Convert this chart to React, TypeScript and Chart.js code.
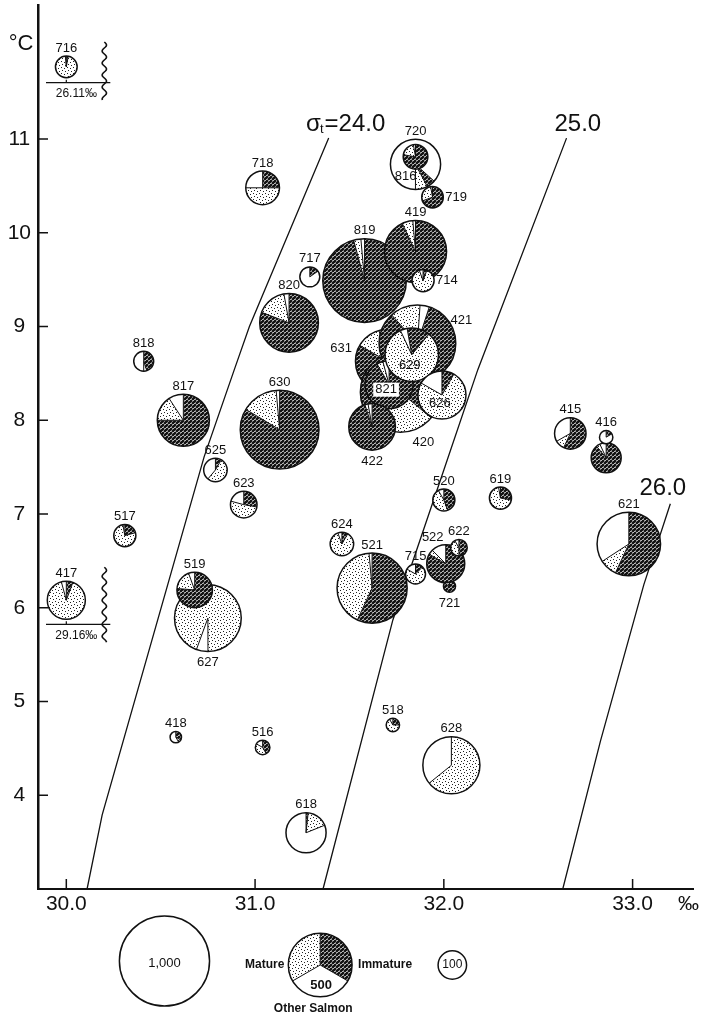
import React, { useEffect, useRef } from 'react';
import { Chart, registerables } from 'chart.js';

Chart.register(...registerables);

// ---------- DATA ----------
// Stations, drawn back-to-front (overlaps follow the original figure)
const stations = ['716','718','720','816','719','819','419','714','717','820','818','631','421','420','821','629','626','422','630','817','625','623','517','417','627','519','418','516','618','624','521','715','721','522','622','520','619','518','628','415','','416','621'];
// Salinity (‰) as plotted; 716 and 417 are off-scale insets plotted at the 30.0 mark
const salinity = [30.00,31.04,31.85,31.85,31.94,31.58,31.85,31.89,31.29,31.18,30.41,31.70,31.86,31.77,31.71,31.83,31.99,31.62,31.13,30.62,30.79,30.94,30.31,30.00,30.75,30.68,30.58,31.04,31.27,31.46,31.62,31.85,32.03,32.01,32.08,32.00,32.30,31.73,32.04,32.67,32.86,32.86,32.98];
const temperature = [11.77,10.48,10.73,10.81,10.38,9.49,9.80,9.49,9.53,9.04,8.63,8.63,8.82,8.30,8.38,8.70,8.27,7.93,7.90,8.00,7.47,7.10,6.77,6.08,5.89,6.19,4.62,4.51,3.60,6.68,6.21,6.36,6.23,6.47,6.64,7.15,7.17,4.75,4.32,7.86,7.60,7.82,6.68];
const totalCatch = [58,140,310,75,57,860,475,60,49,424,49,496,724,790,284,352,284,268,763,334,68,87,60,178,548,155,16,26,198,68,605,49,18,178,34,60,60,22,401,122,111,22,496];
// Share of catch (%)
const immaturePct = [2.8,25,5.6,77.8,69.4,95.8,93.1,5.6,15.3,80.8,45,86.1,83.3,69.4,91.7,13.9,8.3,95,83.6,75,8.3,27.8,20.8,5.6,0,76.4,33.3,41.7,1.7,8.3,56.9,12.5,83.3,83.3,50,44.4,27.8,25,0,56.9,88.9,16.7,56.9];
const maturePct = [95.8,50,7.8,19.4,27.8,2.8,5.6,88.9,0,16.4,5,12.5,12.8,27.8,4.2,81.9,75,2.2,15,15.8,52.8,51.4,76.4,90.3,94.4,18.1,8.3,41.7,17.2,86.1,41.7,70.8,16.7,4.2,41.7,47.2,69.4,66.7,64.2,9.7,4.2,0,8.9];
const otherPct = [1.4,25,86.7,2.8,2.8,1.4,1.4,5.6,84.7,2.8,50,1.4,3.9,2.8,4.2,4.2,16.7,2.8,1.4,9.2,38.9,20.8,2.8,4.2,5.6,5.6,58.3,16.7,81.1,5.6,1.4,16.7,0,12.5,8.3,8.3,2.8,8.3,35.8,33.3,6.9,83.3,34.2];
// Angle (deg, clockwise from 12 o'clock) where the first sector begins
const startAngle = [0,0,132,0,0,0,0,0,0,0,0,-10,18,240,0,-10,0,0,0,0,0,0,0,0,200,0,0,0,0,0,0,0,0,0,0,0,0,0,0,0,0,0,0];
// Off-scale salinities of the inset stations
const offScaleStations = ['716','417'];
const offScaleSalinity = [26.11, 29.16];

// Isopycnals (sigma-t)
const sigmaLabels = ['24.0','25.0','26.0'];
const sigma24Sal = [30.11,30.19,30.73,30.89,30.97,31.39];
const sigma24Temp = [3.0,3.79,7.61,8.54,9.0,11.01];
const sigma25Sal = [31.36,31.73,32.0,32.18,32.65];
const sigma25Temp = [3.0,5.87,7.47,8.54,11.01];
const sigma26Sal = [32.63,32.83,33.06,33.2];
const sigma26Temp = [3.0,4.58,6.25,7.11];
const sigmaLabelSal = [31.48,32.71,33.16];
const sigmaLabelTemp = [11.16,11.16,7.27];

// Axis ticks
const xTicks = [30, 31, 32, 33];
const yTicks = [4, 5, 6, 7, 8, 9, 10, 11];

// Size key (number of fish)
const legendCounts = [1000, 500, 100];
const legendCategories = ['Mature', 'Immature', 'Other Salmon'];

// ---------- STYLE / LAYOUT ----------
const RADIUS_PER_ROOT_FISH = 0.00755; // ‰ of salinity axis per sqrt(fish)
const labelPlace: Record<string, any> = {
  '816': [-10, 20], '719': 'r', '714': 'r', '631': [-46, -13], '421': [44, -23], '420': [23, 50],
  '821': [-3, 5], '629': [-2, 11], '626': [-2, 8], '422': 'b', '627': 'b', '721': 'b', '522': [-13, -26],
};
const boxedLabels = ['821'];
const FONT = '"Liberation Sans", Arial, sans-serif';

let patCache: any = null;
function getPatterns(ctx: CanvasRenderingContext2D) {
  if (patCache) return patCache;
  const st = document.createElement('canvas');
  st.width = 6; st.height = 6;
  const sc = st.getContext('2d')!;
  sc.fillStyle = '#fff'; sc.fillRect(0, 0, 6, 6);
  sc.fillStyle = '#222';
  [[1, 1], [4, 2], [2, 4], [5, 5]].forEach(([x, y]) => sc.fillRect(x, y, 1, 1));
  const ht = document.createElement('canvas');
  ht.width = 4; ht.height = 4;
  const hc = ht.getContext('2d')!;
  hc.fillStyle = '#fff'; hc.fillRect(0, 0, 4, 4);
  hc.strokeStyle = '#111'; hc.lineWidth = 2.5;
  for (let k = -1; k <= 1; k++) {
    hc.beginPath(); hc.moveTo(k * 4, 4); hc.lineTo(k * 4 + 4, 0); hc.stroke();
  }
  patCache = {
    M: ctx.createPattern(st, 'repeat'),
    I: ctx.createPattern(ht, 'repeat'),
    O: '#ffffff',
  };
  return patCache;
}

function drawPie(ctx: CanvasRenderingContext2D, cx: number, cy: number, r: number, slices: [any, number][], start: number) {
  const nz = slices.filter((s) => s[1] > 0.05);
  const total = nz.reduce((a, s) => a + s[1], 0);
  const toRad = (d: number) => ((d - 90) * Math.PI) / 180;
  let a = start;
  for (const [fill, pct] of nz) {
    const deg = (pct / total) * 360;
    ctx.beginPath();
    ctx.moveTo(cx, cy);
    ctx.arc(cx, cy, r, toRad(a), toRad(a + deg));
    ctx.closePath();
    ctx.fillStyle = fill;
    ctx.fill();
    a += deg;
  }
  ctx.strokeStyle = '#111';
  if (nz.length > 1) {
    a = start;
    ctx.beginPath();
    for (const [, pct] of nz) {
      const ang = toRad(a);
      ctx.moveTo(cx, cy);
      ctx.lineTo(cx + r * Math.cos(ang), cy + r * Math.sin(ang));
      a += (pct / total) * 360;
    }
    ctx.lineWidth = 1;
    ctx.stroke();
  }
  ctx.beginPath();
  ctx.arc(cx, cy, r, 0, Math.PI * 2);
  ctx.lineWidth = 1.5;
  ctx.stroke();
}

function wavy(ctx: CanvasRenderingContext2D, x: number, y0: number, y1: number) {
  ctx.beginPath();
  for (let y = y0; y <= y1; y += 1) {
    const x1 = x + 2.2 * Math.sin(((y - y0) / 12) * Math.PI * 2);
    if (y === y0) ctx.moveTo(x1, y); else ctx.lineTo(x1, y);
  }
  ctx.lineWidth = 1.6;
  ctx.strokeStyle = '#111';
  ctx.stroke();
}

const piePlugin = {
  id: 'salmonPies',
  afterDatasetsDraw(chart: any) {
    const ctx: CanvasRenderingContext2D = chart.ctx;
    const xs = chart.scales.x;
    const ys = chart.scales.y;
    const area = chart.chartArea;
    const pxPerUnit = xs.getPixelForValue(31) - xs.getPixelForValue(30);
    const rad = (n: number) => RADIUS_PER_ROOT_FISH * Math.sqrt(n) * pxPerUnit;
    const pats = getPatterns(ctx);
    const meta = chart.getDatasetMeta(3);
    ctx.save();

    // tick marks (inside)
    ctx.strokeStyle = '#111';
    ctx.lineWidth = 1.5;
    ctx.beginPath();
    xTicks.forEach((v) => {
      const x = xs.getPixelForValue(v);
      ctx.moveTo(x, area.bottom); ctx.lineTo(x, area.bottom - 10);
    });
    yTicks.forEach((v) => {
      const y = ys.getPixelForValue(v);
      ctx.moveTo(area.left, y); ctx.lineTo(area.left + 10, y);
    });
    ctx.stroke();

    // pies
    const geo: any[] = [];
    stations.forEach((st, i) => {
      const el = meta.data[i];
      const cx = el.x, cy = el.y, r = rad(totalCatch[i]);
      geo.push({ cx, cy, r });
      drawPie(ctx, cx, cy, r, [[pats.I, immaturePct[i]], [pats.M, maturePct[i]], [pats.O, otherPct[i]]], startAngle[i]);
    });

    // inset decorations for off-scale stations
    offScaleStations.forEach((st, k) => {
      const i = stations.indexOf(st);
      const { cx, cy, r } = geo[i];
      const lineY = cy + r + 5;
      ctx.beginPath();
      ctx.moveTo(area.left + 8, lineY); ctx.lineTo(cx + 44, lineY);
      ctx.moveTo(cx, lineY - 3); ctx.lineTo(cx, lineY);
      ctx.lineWidth = 1.2; ctx.strokeStyle = '#111'; ctx.stroke();
      ctx.fillStyle = '#111';
      ctx.font = `12px ${FONT}`;
      ctx.textAlign = 'center'; ctx.textBaseline = 'middle';
      ctx.fillText(`${offScaleSalinity[k].toFixed(2)}‰`, cx + 10, lineY + 11);
      wavy(ctx, cx + 38, cy - r - 14, lineY + 18);
    });

    // station labels
    ctx.font = `13px ${FONT}`;
    ctx.textBaseline = 'middle';
    stations.forEach((st, i) => {
      if (!st) return;
      const { cx, cy, r } = geo[i];
      const p = labelPlace[st] || 'a';
      let x = cx, y = cy, align: CanvasTextAlign = 'center';
      if (p === 'a') y = cy - r - 8;
      else if (p === 'b') y = cy + r + 11;
      else if (p === 'r') { x = cx + r + 2; align = 'left'; }
      else { x = cx + p[0]; y = cy + p[1]; }
      ctx.textAlign = align;
      if (boxedLabels.includes(st)) {
        const w = ctx.measureText(st).width;
        ctx.fillStyle = '#fff';
        ctx.fillRect(x - w / 2 - 2, y - 7, w + 4, 14);
      }
      ctx.fillStyle = '#111';
      ctx.fillText(st, x, y);
    });

    // isopycnal labels
    ctx.font = `24px ${FONT}`;
    ctx.fillStyle = '#111';
    sigmaLabels.forEach((lab, k) => {
      const x = xs.getPixelForValue(sigmaLabelSal[k]);
      const y = ys.getPixelForValue(sigmaLabelTemp[k]);
      if (k === 0) {
        ctx.font = `24px ${FONT}`;
        const w1 = ctx.measureText('σ').width;
        ctx.font = `13px ${FONT}`;
        const w2 = ctx.measureText('t').width;
        ctx.font = `24px ${FONT}`;
        const w3 = ctx.measureText('=' + lab).width;
        const x0 = x - (w1 + w2 + w3) / 2;
        ctx.textAlign = 'left';
        ctx.fillText('σ', x0, y);
        ctx.font = `13px ${FONT}`;
        ctx.fillText('t', x0 + w1 - 1, y + 5);
        ctx.font = `24px ${FONT}`;
        ctx.fillText('=' + lab, x0 + w1 + w2, y);
      } else {
        ctx.textAlign = 'center';
        ctx.fillText(lab, x, y);
      }
    });

    // axis units
    ctx.font = `22px ${FONT}`;
    ctx.textAlign = 'center';
    ctx.fillText('°C', area.left - 17, area.top + 39);
    ctx.font = `21px ${FONT}`;
    ctx.fillText('‰', xs.getPixelForValue(33) + 56, area.bottom + 15);

    // size / category key
    const keyY = area.bottom + 74;
    const k1x = xs.getPixelForValue(30.52), k2x = xs.getPixelForValue(31.345), k3x = xs.getPixelForValue(32.045);
    const r1 = rad(legendCounts[0]), r2 = rad(legendCounts[1]), r3 = rad(legendCounts[2]);
    drawPie(ctx, k1x, keyY - 2, r1, [[pats.O, 100]], 0);
    drawPie(ctx, k2x, keyY + 2, r2, [[pats.I, 1], [pats.O, 1], [pats.M, 1]], 0);
    drawPie(ctx, k3x, keyY + 2, r3, [[pats.O, 100]], 0);
    ctx.fillStyle = '#111';
    ctx.textBaseline = 'middle';
    ctx.font = `13px ${FONT}`;
    ctx.textAlign = 'center';
    ctx.fillText(legendCounts[0].toLocaleString('en-US'), k1x, keyY);
    ctx.font = `12px ${FONT}`;
    ctx.fillText(String(legendCounts[2]), k3x, keyY + 2);
    ctx.font = `bold 13px ${FONT}`;
    ctx.fillText(String(legendCounts[1]), k2x + 1, keyY + 22);
    ctx.font = `bold 12px ${FONT}`;
    ctx.textAlign = 'right';
    ctx.fillText(legendCategories[0], k2x - r2 - 4, keyY + 2);
    ctx.textAlign = 'left';
    ctx.fillText(legendCategories[1], k2x + r2 + 6, keyY + 2);
    ctx.textAlign = 'center';
    ctx.fillText(legendCategories[2], k2x - 7, keyY + r2 + 14);

    ctx.restore();
  },
};

const sigmaDataset = (sal: number[], temp: number[]) => ({
  type: 'line' as const,
  data: sal.map((s, i) => ({ x: s, y: temp[i] })),
  borderColor: '#111',
  borderWidth: 1.3,
  pointRadius: 0,
  tension: 0,
  fill: false,
  clip: false as any,
});

export default function App() {
  const ref = useRef<HTMLCanvasElement>(null);
  useEffect(() => {
    if (!ref.current) return;
    const chart = new Chart(ref.current, {
      type: 'scatter',
      data: {
        datasets: [
          sigmaDataset(sigma24Sal, sigma24Temp),
          sigmaDataset(sigma25Sal, sigma25Temp),
          sigmaDataset(sigma26Sal, sigma26Temp),
          {
            type: 'scatter',
            data: salinity.map((s, i) => ({ x: s, y: temperature[i] })),
            pointRadius: 0,
            pointHoverRadius: 0,
            clip: false as any,
          },
        ] as any,
      },
      options: {
        animation: false,
        responsive: false,
        devicePixelRatio: 1,
        events: [],
        layout: { padding: { left: 0, right: 16, top: 5, bottom: 0 } },
        plugins: { legend: { display: false }, tooltip: { enabled: false }, title: { display: false } },
        scales: {
          x: {
            type: 'linear',
            min: 29.85,
            max: 33.32,
            grid: { display: false, drawTicks: false },
            border: { display: true, color: '#111', width: 2 },
            afterBuildTicks: (s: any) => { s.ticks = xTicks.map((v) => ({ value: v })); },
            afterFit: (s: any) => { s.height = 127; s.paddingLeft = 0; s.paddingRight = 0; },
            ticks: {
              autoSkip: false,
              maxRotation: 0,
              padding: 3,
              color: '#111',
              font: { family: FONT, size: 21 },
              callback: (v: any) => Number(v).toFixed(1),
            },
          },
          y: {
            type: 'linear',
            min: 3,
            max: 12.43,
            grid: { display: false, drawTicks: false },
            border: { display: true, color: '#111', width: 2.5 },
            afterBuildTicks: (s: any) => { s.ticks = yTicks.map((v) => ({ value: v })); },
            afterFit: (s: any) => { s.width = 38; s.paddingTop = 0; s.paddingBottom = 0; },
            ticks: {
              autoSkip: false,
              padding: 7,
              crossAlign: 'center',
              color: '#111',
              font: { family: FONT, size: 21 },
              callback: (v: any) => String(v),
            },
          },
        },
      } as any,
      plugins: [piePlugin],
    });
    return () => chart.destroy();
  }, []);
  return (
    <div style={{ position: 'fixed', left: 0, top: 0, width: 709, height: 1016, background: '#fff' }}>
      <canvas ref={ref} width={709} height={1016} style={{ width: 709, height: 1016, display: 'block' }} />
    </div>
  );
}
